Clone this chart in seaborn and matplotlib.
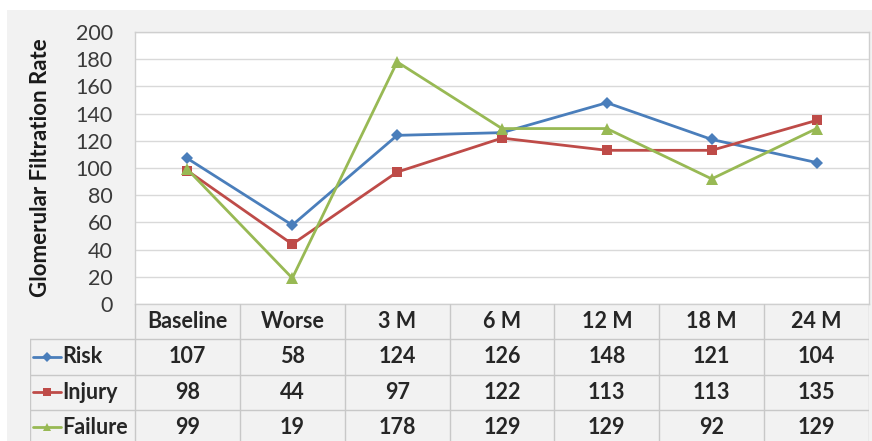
import numpy as np
import pandas as pd
import seaborn as sns
import matplotlib.pyplot as plt
from matplotlib.patches import Rectangle

categories = ["Baseline", "Worse", "3 M", "6 M", "12 M", "18 M", "24 M"]
series = ["Risk", "Injury", "Failure"]
risk = [107, 58, 124, 126, 148, 121, 104]
injury = [98, 44, 97, 122, 113, 113, 135]
failure = [99, 19, 178, 129, 129, 92, 129]
y_ticks = list(range(0, 201, 20))

colors = {"Risk": "#4a7ebb", "Injury": "#be4b48", "Failure": "#98b954"}
markers = {"Risk": "D", "Injury": "s", "Failure": "^"}
msize = {"Risk": 6.5, "Injury": 7, "Failure": 8}

df = pd.DataFrame({
    "period": categories * len(series),
    "series": np.repeat(series, len(categories)),
    "gfr": risk + injury + failure,
})

sns.set_style("white")
plt.rcParams["font.family"] = ["Lato", "DejaVu Sans"]

W, H = 872, 441
fig = plt.figure(figsize=(W / 100, H / 100), dpi=100, facecolor="white")
fig.patches.append(Rectangle((7 / W, 0), 1, 1 - 10 / H, transform=fig.transFigure,
                             facecolor="#f2f2f2", edgecolor="none", zorder=-10))

# main plot area
ax = fig.add_axes([135 / W, 1 - 304 / H, (869 - 135) / W, (304 - 32) / H])
ax.set_facecolor("white")
sns.lineplot(data=df, x="period", y="gfr", hue="series", style="series",
             markers=markers, dashes=False, palette=colors, legend=False,
             linewidth=2, markersize=7, markeredgewidth=0, ax=ax)
for line, s in zip(ax.lines, series):
    line.set_markersize(msize[s])

ax.set_xlim(-0.5, len(categories) - 0.5)
ax.set_ylim(0, 200)
ax.set_yticks(y_ticks)
ax.yaxis.grid(True, color="#d9d9d9", linewidth=1)
ax.xaxis.grid(False)
ax.tick_params(axis="x", labelbottom=False, length=0)
ax.tick_params(axis="y", length=0, pad=16, labelsize=15.5, labelcolor="#3a3a3a")
for sp in ax.spines.values():
    sp.set_color("#cfcfcf")
    sp.set_linewidth(1)
ax.set_xlabel("")
ax.set_ylabel("Glomerular Filtration Rate", fontsize=16, fontweight="bold", color="#1a1a1a")
ax.yaxis.set_label_coords(-0.114, 0.5)

# data table under the plot
colw = (869 - 135) / len(categories)
tab = fig.add_axes([30 / W, -4 / H, (869 - 30) / W, (445 - 304) / H])
xl = -0.5 - (135 - 30) / colw
tab.set_xlim(xl, len(categories) - 0.5)
tab.set_ylim(len(series) + 1, 0)
tab.axis("off")
tab.patch.set_alpha(0)

gc = "#c8c8c8"
for k in range(len(categories) + 1):
    tab.plot([k - 0.5, k - 0.5], [0, len(series) + 1], color=gc, lw=1)
tab.plot([xl, xl], [1, len(series) + 1], color=gc, lw=1)
for r in range(1, len(series) + 1):
    tab.plot([xl, len(categories) - 0.5], [r, r], color=gc, lw=1)

for i, c in enumerate(categories):
    tab.text(i, 0.5, c, ha="center", va="center", fontsize=15.5, fontweight="bold")

values = [risk, injury, failure]
px = lambda p: xl + (p - 30) / colw
for r, (s, vals) in enumerate(zip(series, values)):
    yc = r + 1.5
    tab.plot([px(33), px(61)], [yc, yc], color=colors[s], lw=2)
    tab.plot([px(47)], [yc], marker=markers[s], color=colors[s], ms=msize[s] * 0.8, mew=0)
    tab.text(px(62), yc, s, ha="left", va="center", fontsize=15.5, fontweight="bold")
    for i, v in enumerate(vals):
        tab.text(i, yc, str(v), ha="center", va="center", fontsize=15.5, fontweight="bold")

fig.savefig("out.png", dpi=100, facecolor=fig.get_facecolor())
